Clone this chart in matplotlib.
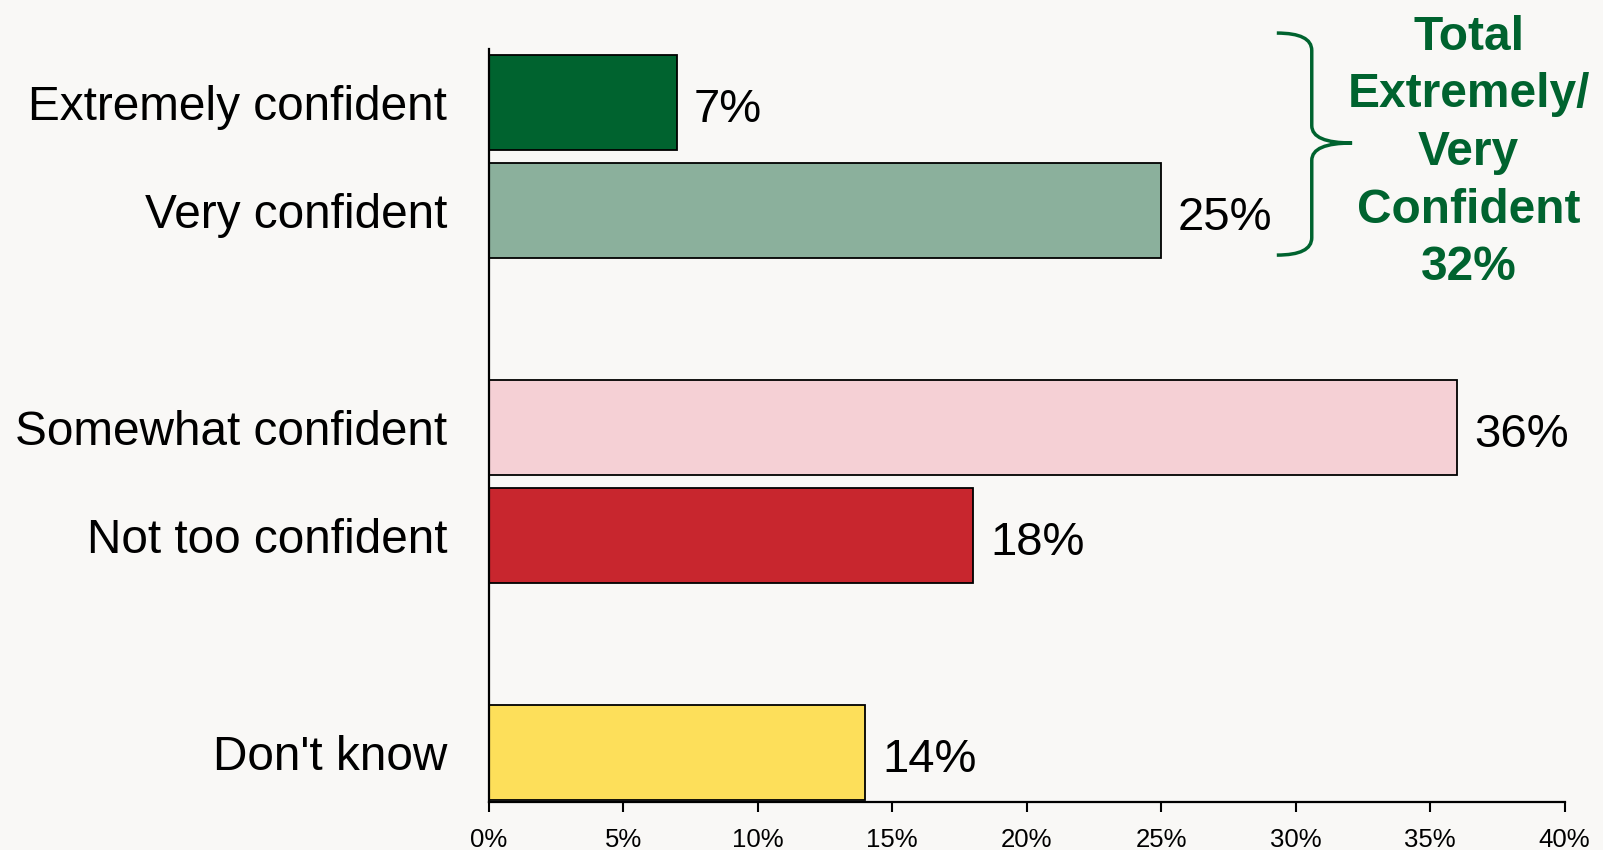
import matplotlib
matplotlib.use('Agg')
import matplotlib.pyplot as plt
from matplotlib.path import Path
from matplotlib.patches import PathPatch

labels = ['Extremely confident', 'Very confident', 'Somewhat confident',
          'Not too confident', "Don't know"]
values = [7, 25, 36, 18, 14]
slots = [0, 1, 3, 4, 6]
colors = ['#00632F', '#8BB09C', '#F5D0D5', '#C8262E', '#FDDF5A']
xticks = [0, 5, 10, 15, 20, 25, 30, 35, 40]
total_text = 'Total\nExtremely/\nVery\nConfident\n32%'

bg = '#F9F8F6'
green = '#00632F'
plt.rcParams['font.family'] = ['Liberation Sans', 'DejaVu Sans']

fig = plt.figure(figsize=(16.03, 8.5), dpi=100, facecolor=bg)
ax = fig.add_axes([0.305, 0.0565, 0.671, 0.886])
ax.set_facecolor(bg)

ax.barh(slots, values, height=0.877, color=colors, edgecolor='black', linewidth=1.3)
for y, v in zip(slots, values):
    ax.text(v + 0.63, y + 0.18, f'{v}%', va='baseline', ha='left', fontsize=34)

ax.set_xlim(0, 40)
ax.set_ylim(6.459, -0.494)
ax.set_yticks(slots)
ax.set_yticklabels(labels, fontsize=34.4)
ax.tick_params(axis='y', length=0, pad=30)
ax.set_xticks(xticks)
ax.set_xticklabels([f'{t}%' for t in xticks], fontsize=18.5)
ax.tick_params(axis='x', length=7.5, width=1.5, direction='out', pad=11)
for s in ['top', 'right']:
    ax.spines[s].set_visible(False)
for s in ['left', 'bottom']:
    ax.spines[s].set_linewidth(1.6)

# brace grouping the two top bars
x0, xv, xt = 29.3, 30.6, 32.1
y0, y1, ym, r = -0.64, 1.41, 0.375, 0.16
verts = [(x0, y0), (xv, y0), (xv, y0 + r),
         (xv, ym - r), (xv, ym), (xt, ym),
         (xv, ym), (xv, ym + r),
         (xv, y1 - r), (xv, y1), (x0, y1)]
codes = [Path.MOVETO, Path.CURVE3, Path.CURVE3,
         Path.LINETO, Path.CURVE3, Path.CURVE3,
         Path.CURVE3, Path.CURVE3,
         Path.LINETO, Path.CURVE3, Path.CURVE3]
ax.add_patch(PathPatch(Path(verts, codes), fill=False, edgecolor=green,
                       linewidth=2.5, clip_on=False))

ax.text(36.43, 0.463, total_text, ha='center', va='center', fontsize=34.5,
        fontweight='bold', color=green, linespacing=1.36, clip_on=False)

fig.savefig('out.png', dpi=100, facecolor=bg)
